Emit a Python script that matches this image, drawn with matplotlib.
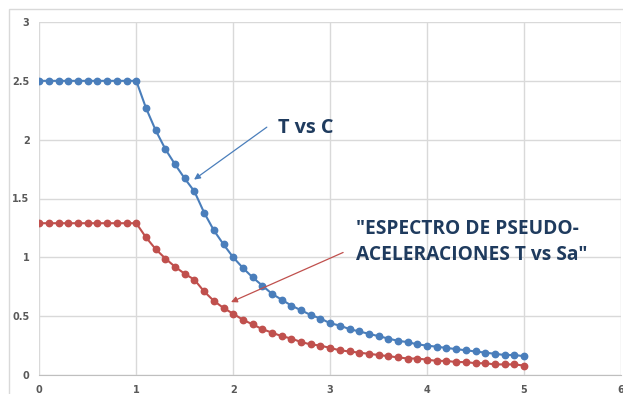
import matplotlib
matplotlib.use("Agg")
import matplotlib.pyplot as plt
from matplotlib.patches import Rectangle

# Periodo T (s)
periodos = [0.0, 0.1, 0.2, 0.3, 0.4, 0.5, 0.6, 0.7, 0.8, 0.9, 1.0,
            1.1, 1.2, 1.3, 1.4, 1.5, 1.6, 1.7, 1.8, 1.9, 2.0,
            2.1, 2.2, 2.3, 2.4, 2.5, 2.6, 2.7, 2.8, 2.9, 3.0,
            3.1, 3.2, 3.3, 3.4, 3.5, 3.6, 3.7, 3.8, 3.9, 4.0,
            4.1, 4.2, 4.3, 4.4, 4.5, 4.6, 4.7, 4.8, 4.9, 5.0]

# Factor de amplificacion sismica C
factor_c = [2.50, 2.50, 2.50, 2.50, 2.50, 2.50, 2.50, 2.50, 2.50, 2.50, 2.50,
            2.27, 2.08, 1.92, 1.79, 1.67, 1.56, 1.38, 1.23, 1.11, 1.00,
            0.91, 0.83, 0.76, 0.69, 0.64, 0.59, 0.55, 0.51, 0.48, 0.44,
            0.42, 0.39, 0.37, 0.35, 0.33, 0.31, 0.29, 0.28, 0.26, 0.25,
            0.24, 0.23, 0.22, 0.21, 0.20, 0.19, 0.18, 0.17, 0.17, 0.16]

# Pseudo-aceleracion Sa
sa = [1.29, 1.29, 1.29, 1.29, 1.29, 1.29, 1.29, 1.29, 1.29, 1.29, 1.29,
      1.17, 1.07, 0.99, 0.92, 0.86, 0.81, 0.71, 0.63, 0.57, 0.52,
      0.47, 0.43, 0.39, 0.36, 0.33, 0.31, 0.28, 0.26, 0.25, 0.23,
      0.21, 0.20, 0.19, 0.18, 0.17, 0.16, 0.15, 0.14, 0.14, 0.13,
      0.12, 0.12, 0.11, 0.11, 0.10, 0.10, 0.09, 0.09, 0.09, 0.08]

x_ticks = [0, 1, 2, 3, 4, 5, 6]
y_ticks = [0, 0.5, 1, 1.5, 2, 2.5, 3]
y_labels = ["0", "0.5", "1", "1.5", "2", "2.5", "3"]

azul = "#4a7ebb"
rojo = "#c0504d"
gris = "#d9d9d9"
texto = "#1f3b5e"

fig = plt.figure(figsize=(6.23, 3.94), dpi=100)
fig.patch.set_facecolor("white")

# marco exterior del grafico
W, H = 623, 394
fig.patches.append(Rectangle((9 / W, -0.1), 1.2, 1 - 9 / H + 0.1,
                             transform=fig.transFigure, fill=False,
                             edgecolor=gris, linewidth=1.0))

ax = fig.add_axes([39.3 / W, 1 - 375 / H, (621 - 39.3) / W, (375 - 22) / H])
ax.set_xlim(0, 6)
ax.set_ylim(0, 3)
ax.set_xticks(x_ticks)
ax.set_yticks(y_ticks)
ax.set_yticklabels(y_labels)
ax.grid(True, color=gris, linewidth=1.0)
ax.set_axisbelow(True)
for side in ["top", "right", "left"]:
    ax.spines[side].set_visible(False)
ax.spines["bottom"].set_color("#bfbfbf")
ax.tick_params(length=0, labelsize=7, labelcolor="#595959", pad=7)
for lbl in ax.get_xticklabels() + ax.get_yticklabels():
    lbl.set_fontweight("bold")

ax.plot(periodos, factor_c, color=azul, lw=1.5, marker="o", ms=4.6, zorder=3)
ax.plot(periodos, sa, color=rojo, lw=1.5, marker="o", ms=4.6, zorder=3)

ax.annotate("", xy=(1.573, 1.647), xytext=(2.37, 2.12),
            arrowprops=dict(arrowstyle="-|>", color=azul, lw=0.9,
                            mutation_scale=9))
ax.text(2.46, 2.1, "T vs C", fontsize=14.3, fontweight="bold",
        family="Open Sans", color=texto, va="center", ha="left")

ax.annotate("", xy=(1.951, 0.61), xytext=(3.16, 1.051),
            arrowprops=dict(arrowstyle="-|>", color=rojo, lw=0.9,
                            mutation_scale=9))
ax.text(3.27, 1.13, "\"ESPECTRO DE PSEUDO-\nACELERACIONES T vs Sa\"",
        fontsize=13.8, fontweight="bold", family="Open Sans", color=texto,
        va="center", ha="left", linespacing=1.45)

fig.savefig("out.png", dpi=100)
